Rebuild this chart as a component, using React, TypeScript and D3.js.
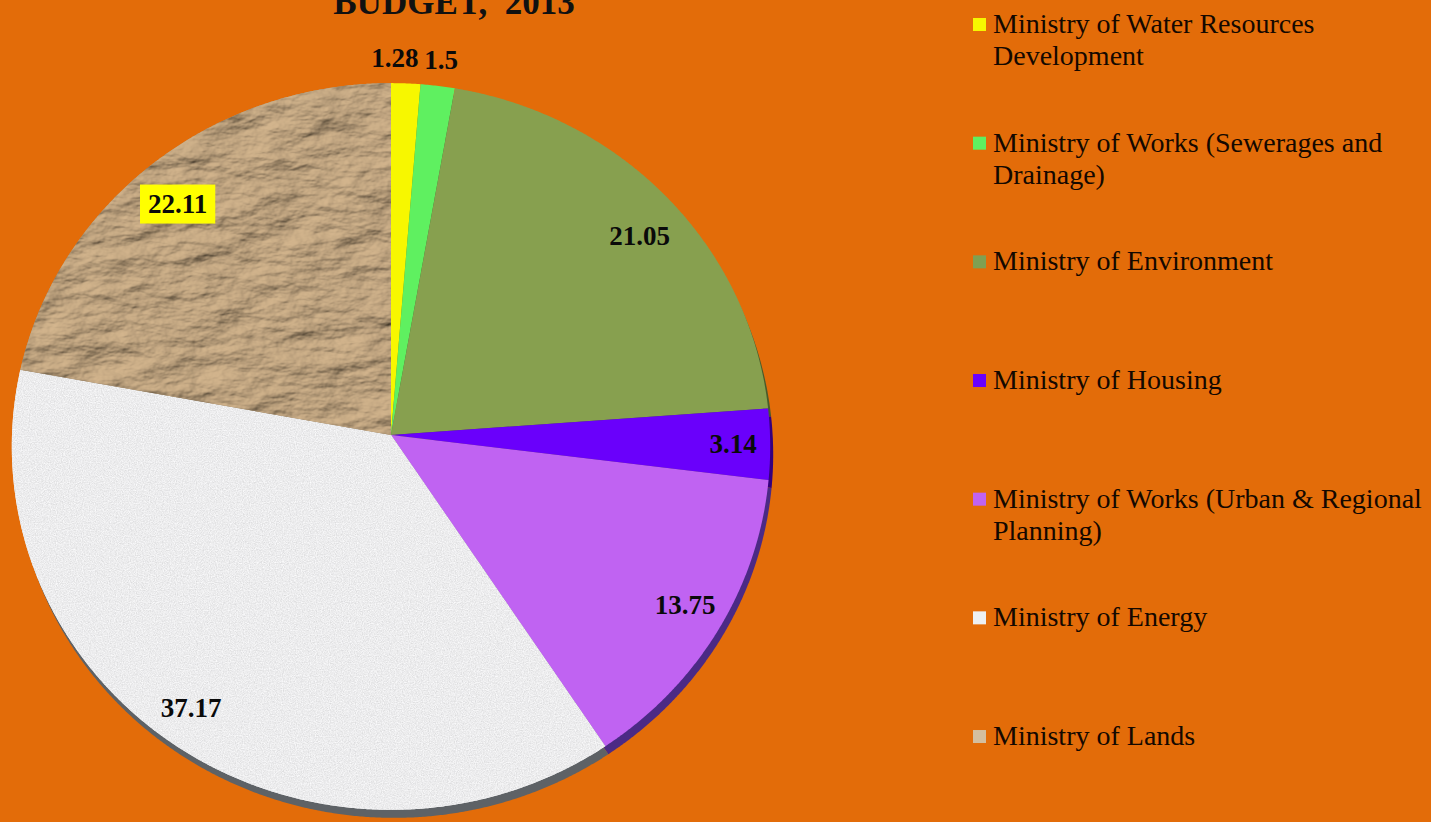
import React, { useEffect, useRef } from "react";
import * as d3 from "d3";

const categories = [
  "Ministry of Water Resources Development",
  "Ministry of Works (Sewerages and Drainage)",
  "Ministry of Environment",
  "Ministry of Housing",
  "Ministry of Works (Urban & Regional Planning)",
  "Ministry of Energy",
  "Ministry of Lands",
];
const values = [1.28, 1.5, 21.05, 3.14, 13.75, 37.17, 22.11];
const valueLabels = ["1.28", "1.5", "21.05", "3.14", "13.75", "37.17", "22.11"];
const titleText = "BUDGET,  2013";

const faceColors = ["#f7f700", "#5ff060", "#87a04f", "#6a00fb", "#c063f2", "#e4e4e4", "#a89070"];
const sideColors = ["#8a8a00", "#2f7a30", "#4a5a2a", "#35007d", "#4b2a85", "#5e6266", "#5e6266"];
const swatchColors = ["#f7f700", "#5ff060", "#7fa052", "#6a00fb", "#c063f2", "#eef0f2", "#d4bfa0"];
const textures = [null, null, null, null, null, "speckle", "paper"];
const labelRadius = [1.075, 1.075, 0.86, 0.9, 0.9, 0.9, 0.86];
const labelNudge = [[-12, 0], [0, -1], [11, 7], [1, 1], [0, -5], [-7, -6], [-9, 4]];
const labelBg = [null, null, null, null, null, null, "#ffff00"];

const W = 1431;
const H = 822;
const BG = "#e36c09";

export default function App() {
  const ref = useRef<SVGSVGElement | null>(null);

  useEffect(() => {
    const svg = d3.select(ref.current);
    svg.selectAll("*").remove();

    const cx = 391, cy = 435, rx = 379, ry = 363, k = 0.0316;
    const proj = (a: number, f: number): [number, number] => {
      const s = Math.sin(a), c = Math.cos(a);
      const d = 1 + k * f * c;
      return [cx + (rx * f * s) / d, cy - (ry * f * c) / d];
    };

    const pie = d3.pie<number>().sort(null).value((d) => d);
    const arcs = pie(values);
    const line = d3.line();
    const slicePath = (a0: number, a1: number) => {
      const n = Math.max(2, Math.ceil((a1 - a0) / 0.005));
      const pts: [number, number][] = [[cx, cy]];
      for (let i = 0; i <= n; i++) pts.push(proj(a0 + ((a1 - a0) * i) / n, 1));
      return line(pts) + "Z";
    };

    const defs = svg.append("defs");
    const speck = defs.append("filter").attr("id", "speckle").attr("x", 0).attr("y", 0).attr("width", 1).attr("height", 1);
    speck.append("feTurbulence").attr("type", "fractalNoise").attr("baseFrequency", 0.85).attr("numOctaves", 2).attr("seed", 5).attr("result", "n");
    speck.append("feColorMatrix").attr("in", "n").attr("type", "matrix")
      .attr("values", "0.36 0 0 0 0.66  0.36 0 0 0 0.66  0.36 0 0 0 0.67  0 0 0 0 1");

    const paper = defs.append("filter").attr("id", "paper").attr("x", 0).attr("y", 0).attr("width", 1).attr("height", 1);
    paper.append("feTurbulence").attr("type", "fractalNoise").attr("baseFrequency", "0.018 0.04").attr("numOctaves", 5).attr("seed", 11).attr("result", "n");
    const light = paper.append("feDiffuseLighting").attr("in", "n").attr("surfaceScale", 7).attr("diffuseConstant", 1.0).attr("lighting-color", "#d4b68e").attr("result", "l");
    light.append("feDistantLight").attr("azimuth", 225).attr("elevation", 50);

    svg.append("rect").attr("width", W).attr("height", H).attr("fill", BG);

    // title (bottom line visible at top edge, as in the reference)
    svg.append("text")
      .attr("x", 454).attr("y", 14)
      .attr("text-anchor", "middle")
      .attr("font-family", "'Liberation Serif', 'Times New Roman', serif")
      .attr("font-weight", "bold").attr("font-size", 35)
      .attr("fill", "#111")
      .style("white-space", "pre")
      .text(titleText);

    // shadow / sides
    const gSide = svg.append("g").attr("transform", "translate(3,8)");
    arcs.forEach((a, i) => {
      gSide.append("path").attr("d", slicePath(a.startAngle, a.endAngle)).attr("fill", sideColors[i]);
    });

    // faces
    const gFace = svg.append("g");
    arcs.forEach((a, i) => {
      const d = slicePath(a.startAngle, a.endAngle);
      gFace.append("path").attr("d", d).attr("fill", faceColors[i]);
      if (textures[i]) {
        const cid = "clip" + i;
        defs.append("clipPath").attr("id", cid).append("path").attr("d", d);
        gFace.append("g").attr("clip-path", `url(#${cid})`)
          .append("rect").attr("x", 0).attr("y", 60).attr("width", 800).attr("height", 770)
          .attr("filter", `url(#${textures[i]})`);
      }
    });

    // data labels
    const gLab = svg.append("g")
      .attr("font-family", "'Liberation Serif', 'Times New Roman', serif")
      .attr("font-weight", "bold").attr("font-size", 27);
    arcs.forEach((a, i) => {
      const mid = (a.startAngle + a.endAngle) / 2;
      const [x, y] = proj(mid, labelRadius[i]);
      const lx = x + labelNudge[i][0], ly = y + labelNudge[i][1];
      const g = gLab.append("g");
      const t = g.append("text").attr("x", lx).attr("y", ly)
        .attr("text-anchor", "middle").attr("dominant-baseline", "central")
        .attr("fill", "#0a0a0a").text(valueLabels[i]);
      if (labelBg[i]) {
        const bb = (t.node() as SVGTextElement).getBBox();
        g.insert("rect", "text")
          .attr("x", bb.x - 8).attr("y", ly - 19.5)
          .attr("width", bb.width + 16).attr("height", 39)
          .attr("fill", labelBg[i] as string);
      }
    });

    // legend
    const lx0 = 973, ltx = 993, lyStart = 33, lStep = 118.67, maxW = 436, lh = 32;
    const gLeg = svg.append("g")
      .attr("font-family", "'Liberation Serif', 'Times New Roman', serif")
      .attr("font-size", 28).attr("fill", "#140800");
    categories.forEach((c, i) => {
      const by = lyStart + i * lStep;
      gLeg.append("rect").attr("x", lx0).attr("y", by - 15).attr("width", 13).attr("height", 13).attr("fill", swatchColors[i]);
      const t = gLeg.append("text").attr("x", ltx).attr("y", by);
      const words = c.split(" ");
      let lineWords: string[] = [];
      let tspan = t.append("tspan").attr("x", ltx).attr("y", by);
      let lineNo = 0;
      words.forEach((w) => {
        lineWords.push(w);
        tspan.text(lineWords.join(" "));
        if ((tspan.node() as SVGTSpanElement).getComputedTextLength() > maxW && lineWords.length > 1) {
          lineWords.pop();
          tspan.text(lineWords.join(" "));
          lineWords = [w];
          lineNo++;
          tspan = t.append("tspan").attr("x", ltx).attr("y", by + lineNo * lh).text(w);
        }
      });
    });
  }, []);

  return (
    <svg
      ref={ref}
      width={W}
      height={H}
      style={{ position: "absolute", left: 0, top: 0, display: "block" }}
    />
  );
}
